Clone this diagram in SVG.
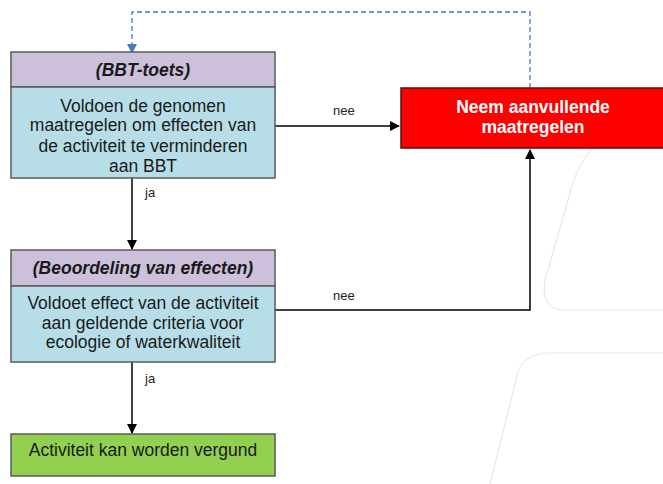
<svg xmlns="http://www.w3.org/2000/svg" width="663" height="484" viewBox="0 0 663 484">
<defs>
<marker id="ah" markerWidth="10" markerHeight="10" refX="9" refY="5" orient="auto" markerUnits="userSpaceOnUse"><path d="M0,0 L10,5 L0,10 z" fill="#000"/></marker>
<marker id="ahb" markerWidth="10" markerHeight="10" refX="9" refY="5" orient="auto" markerUnits="userSpaceOnUse"><path d="M0,0 L10,5 L0,10 z" fill="#4a7ebb"/></marker>
<style>
.box{stroke:#5a5a5a;stroke-width:1.5}
.hdr{fill:#ccc0da}
.body{fill:#b7dee8}
.t{font-family:"Liberation Sans",Arial,sans-serif;font-size:17.5px;fill:#1a1a1a;text-anchor:middle}
.h{font-family:"Liberation Sans",Arial,sans-serif;font-size:17.5px;font-weight:bold;font-style:italic;fill:#1a1a1a;text-anchor:middle}
.lbl{font-family:"Liberation Sans",Arial,sans-serif;font-size:13px;fill:#222}
.c{fill:none;stroke:#000;stroke-width:1.5}
</style>
</defs>
<rect width="663" height="484" fill="#fff"/>
<g id="bg">
<path d="M592,148 Q575,170 571,190 L545,280 Q540,310 565,310 L663,310" fill="none" stroke="#fbe3d2" stroke-width="1.2"/>
<path d="M663,353 L550,353 Q525,353 518,372 L490,484" fill="none" stroke="#dcecf7" stroke-width="1.2"/>
</g>
<g id="connectors">
<path class="c" d="M275,126 L399,126" marker-end="url(#ah)"/>
<path class="c" d="M132,178 L132,249" marker-end="url(#ah)"/>
<path class="c" d="M275,310 L530,310 L530,150" marker-end="url(#ah)" stroke="#333"/>
<path class="c" d="M132,362 L132,433" marker-end="url(#ah)"/>
<path d="M530,88 L530,12 L132,12 L132,53" fill="none" stroke="#4a7ebb" stroke-width="1.3" stroke-dasharray="5,3" marker-end="url(#ahb)"/>
<text class="lbl" x="333" y="115">nee</text>
<text class="lbl" x="333" y="300">nee</text>
<text class="lbl" x="145" y="197">ja</text>
<text class="lbl" x="145" y="383">ja</text>
</g>
<g id="bbt">
<rect class="box hdr" x="11" y="52" width="264" height="35"/>
<rect class="box body" x="11" y="87" width="264" height="91"/>
<text class="h" x="143" y="76">(BBT-toets)</text>
<text class="t" x="143" y="112">Voldoen de genomen</text>
<text class="t" x="143" y="131">maatregelen om effecten van</text>
<text class="t" x="143" y="152">de activiteit te verminderen</text>
<text class="t" x="143" y="172">aan BBT</text>
</g>
<g id="beoordeling">
<rect class="box hdr" x="11" y="250" width="264" height="36"/>
<rect class="box body" x="11" y="286" width="264" height="76"/>
<text class="h" x="143" y="274">(Beoordeling van effecten)</text>
<text class="t" x="143" y="309">Voldoet effect van de activiteit</text>
<text class="t" x="143" y="329">aan geldende criteria voor</text>
<text class="t" x="143" y="348">ecologie of waterkwaliteit</text>
</g>
<g id="maatregelen">
<rect x="401" y="88" width="270" height="60" fill="#ff0000" stroke="#5a1010" stroke-width="1.5"/>
<text class="t" x="533" y="113" style="fill:#fff;font-weight:bold">Neem aanvullende</text>
<text class="t" x="533" y="133" style="fill:#fff;font-weight:bold">maatregelen</text>
</g>
<g id="vergund">
<rect class="box" x="11" y="434" width="264" height="42" fill="#92d050"/>
<text class="t" x="143" y="456">Activiteit kan worden vergund</text>
</g>
</svg>
